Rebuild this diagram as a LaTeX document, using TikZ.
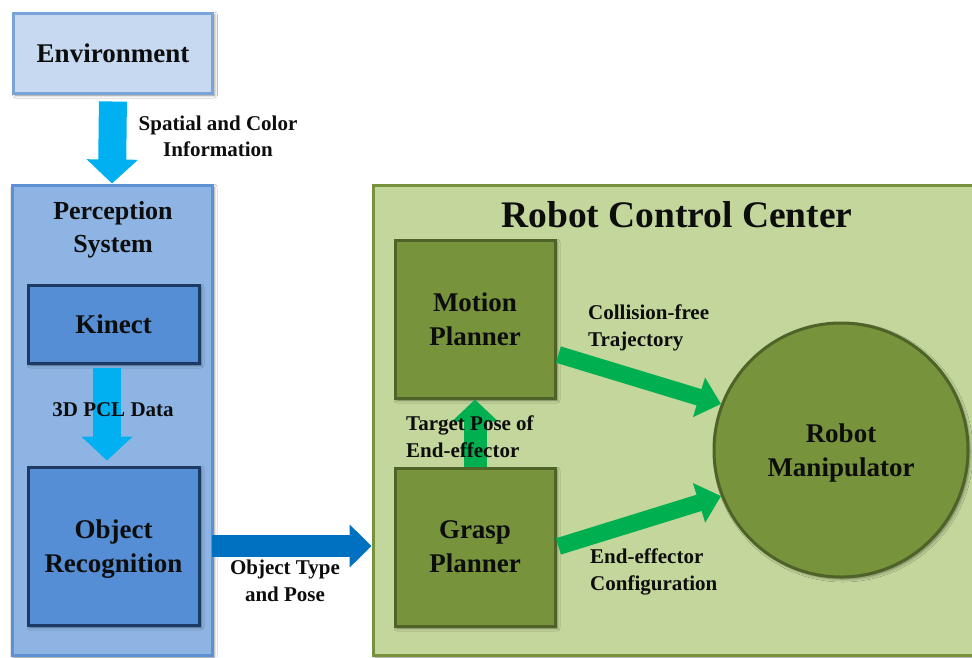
\documentclass[tikz,border=0pt]{standalone}
\usepackage{fontspec}
\setmainfont{Liberation Serif}
\usetikzlibrary{arrows.meta,calc,shadows.blur}

\definecolor{envfill}{HTML}{C6D9F1}
\definecolor{envline}{HTML}{7AA3D8}
\definecolor{percfill}{HTML}{8DB4E2}
\definecolor{percline}{HTML}{5E90D4}
\definecolor{modfill}{HTML}{558ED5}
\definecolor{modline}{HTML}{1C3A63}
\definecolor{skyarrow}{HTML}{00B0F0}
\definecolor{deeparrow}{HTML}{0070C0}
\definecolor{rccfill}{HTML}{C3D69B}
\definecolor{rccline}{HTML}{76923C}
\definecolor{plannerfill}{HTML}{77933C}
\definecolor{plannerline}{HTML}{4F6228}
\definecolor{grnarrow}{HTML}{00B050}
\definecolor{inktext}{HTML}{0D0D0D}

\tikzset{
  softshadow/.style={blur shadow={shadow xshift=2pt, shadow yshift=-2pt,
      shadow blur radius=3pt, shadow opacity=45}},
  boxtext/.style={font=\fontsize{27}{34}\selectfont\bfseries, text=inktext, align=center, text depth=0pt},
  blockbox/.style={rectangle, inner sep=0pt, line width=3pt, softshadow, boxtext},
  edgetext/.style={font=\fontsize{21}{26}\selectfont\bfseries, text=inktext, inner sep=0pt},
  skyblock/.style={draw=skyarrow, line width=28pt,
      -{Triangle[length=24pt,width=50pt]}},
  deepblock/.style={draw=deeparrow, line width=22pt,
      -{Triangle[length=22pt,width=42pt]}},
  greenup/.style={draw=grnarrow, line width=23pt,
      -{Triangle[length=22pt,width=45pt]}},
  greendiag/.style={draw=grnarrow, line width=17pt,
      -{Triangle[length=23pt,width=40pt]}}
}

\begin{document}
\begin{tikzpicture}[x=1pt,y=-1pt]
\useasboundingbox (0,0) rectangle (972,657);
\clip (0,0) rectangle (972,657);
\fill[white] (0,0) rectangle (972,657);

% containers
\node[blockbox, fill=percfill, draw=percline, minimum width=200, minimum height=470] (perc) at (112,420) {};
\node[blockbox, fill=rccfill, draw=rccline, minimum width=608, minimum height=470] (rcc) at (677,420) {};

% blocks
\node[blockbox, fill=envfill, draw=envline, minimum width=199, minimum height=80] (env) at (113,53) {Environment};
\node[blockbox, fill=modfill, draw=modline, minimum width=171, minimum height=78] (kinect) at (113.5,324) {Kinect};
\node[blockbox, fill=modfill, draw=modline, minimum width=171, minimum height=158] (objrec) at (113.5,546) {Object\\Recognition};
\node[blockbox, fill=plannerfill, draw=plannerline, minimum width=160, minimum height=158] (motion) at (475,319) {Motion\\Planner};
\node[blockbox, fill=plannerfill, draw=plannerline, minimum width=160, minimum height=158] (grasp) at (475,547) {Grasp\\Planner};
\node[circle, inner sep=0pt, line width=3pt, softshadow, boxtext, fill=plannerfill, draw=plannerline, minimum size=254] (robot) at (841,450) {Robot\\Manipulator};

% titles of the containers
\node[boxtext, font=\fontsize{26}{33}\selectfont\bfseries] (perctitle) at (113,227) {Perception\\System};
\node[boxtext, font=\fontsize{37.5}{40}\selectfont\bfseries] (rcctitle) at (677,214) {Robot Control Center};

% block arrows
\draw[skyblock, shorten <=7pt] (env.south) -- (perc.north);
\draw[skyblock, shorten <=3pt, shorten >=5pt] ([xshift=-6.5pt]kinect.south) -- ([xshift=-6.5pt]objrec.north);
\draw[deepblock] ([xshift=11pt]objrec.east) -- (rcc.west |- objrec.east);
\draw[greenup] (grasp.north) -- (motion.south);
\draw[greendiag, shorten <=2pt] ([yshift=-35pt]motion.east) -- (robot.159);
\draw[greendiag, shorten <=2pt] (grasp.east) -- (robot.201);

% arrow labels
\node[edgetext, align=center] (spatial) at (218,136) {Spatial and Color\\Information};
\node[edgetext] (pcl) at (113,410) {3D PCL Data};
\node[edgetext, align=center, font=\fontsize{21}{27}\selectfont\bfseries] (objtype) at (285,581) {Object Type\\and Pose};
\node[edgetext, align=left, anchor=west, font=\fontsize{21}{27}\selectfont\bfseries] (target) at (406,437) {Target Pose of\\End-effector};
\node[edgetext, align=left, anchor=west, font=\fontsize{21}{27}\selectfont\bfseries] (collision) at (588,328) {Collision-free\\Trajectory};
\node[edgetext, align=left, anchor=west, font=\fontsize{21}{27}\selectfont\bfseries] (endeff) at (590,572) {End-effector\\Configuration};
\end{tikzpicture}
\end{document}
